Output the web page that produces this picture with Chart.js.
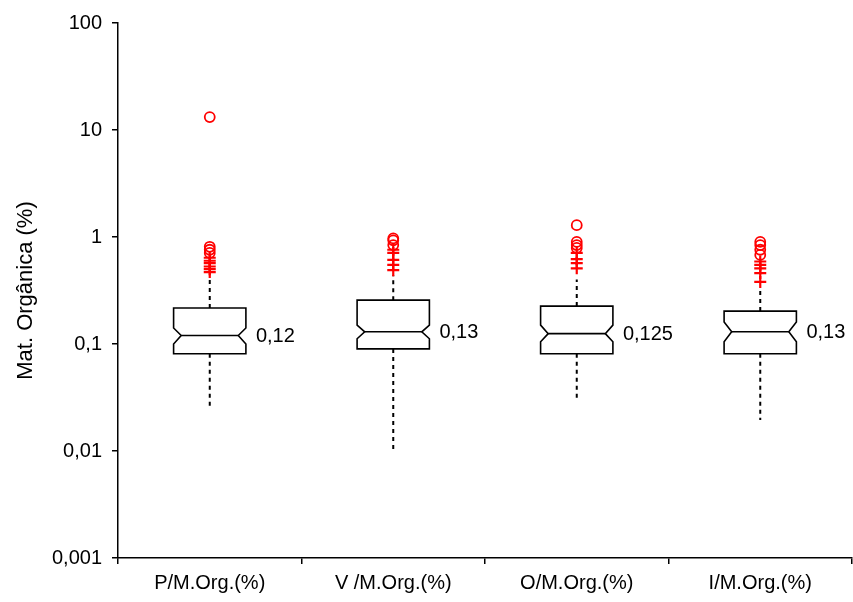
<!DOCTYPE html>
<html><head><meta charset="utf-8">
<script src="https://cdn.jsdelivr.net/npm/chart.js@4/dist/chart.umd.min.js"></script>
<style>html,body{margin:0;padding:0;background:#fff}</style>
</head><body>
<canvas id="c" width="853" height="602"></canvas>
<script>
// ---- data ----
const categories = ['P/M.Org.(%)', 'V /M.Org.(%)', 'O/M.Org.(%)', 'I/M.Org.(%)'];
const whiskerLow  = [0.026, 0.0096, 0.030, 0.0195];
const q1          = [0.081, 0.090, 0.081, 0.081];
const notchLow    = [0.100, 0.112, 0.105, 0.105];
const median      = [0.12, 0.13, 0.125, 0.13];
const notchHigh   = [0.141, 0.150, 0.150, 0.161];
const q3          = [0.217, 0.257, 0.226, 0.203];
const whiskerHigh = [0.40, 0.44, 0.40, 0.34];
const medianLabels = ['0,12', '0,13', '0,125', '0,13'];
const outliersCross = [
  [0.47, 0.50, 0.53, 0.57, 0.60, 0.64],
  [0.49, 0.55, 0.61, 0.71, 0.76],
  [0.51, 0.57, 0.62, 0.71],
  [0.38, 0.46, 0.51, 0.55, 0.59]
];
const outliersCircle = [
  [0.71, 0.76, 0.81, 13.2],
  [0.84, 0.93, 0.97],
  [0.79, 0.84, 0.90, 1.29],
  [0.68, 0.76, 0.84, 0.90]
];
const yTicks = [0.001, 0.01, 0.1, 1, 10, 100];
const yTickLabels = ['0,001', '0,01', '0,1', '1', '10', '100'];

const FONT = '"Liberation Sans", Arial, sans-serif';

const boxPlugin = {
  id: 'boxes',
  beforeDatasetsDraw(chart) {
    const ctx = chart.ctx, xs = chart.scales.x, ys = chart.scales.y;
    const step = xs.getPixelForValue(1) - xs.getPixelForValue(0);
    const hw = step * 0.197, ni = hw * 0.21;
    ctx.save();
    categories.forEach((c, i) => {
      const cx = xs.getPixelForValue(i);
      const yQ1 = ys.getPixelForValue(q1[i]), yQ3 = ys.getPixelForValue(q3[i]);
      const yM = ys.getPixelForValue(median[i]);
      const yNL = ys.getPixelForValue(notchLow[i]), yNH = ys.getPixelForValue(notchHigh[i]);
      const yWL = ys.getPixelForValue(whiskerLow[i]), yWH = ys.getPixelForValue(whiskerHigh[i]);
      // whiskers
      ctx.strokeStyle = '#000'; ctx.lineWidth = 2; ctx.setLineDash([4, 4]);
      ctx.beginPath();
      ctx.moveTo(cx, yQ3); ctx.lineTo(cx, yWH);
      ctx.moveTo(cx, yQ1); ctx.lineTo(cx, yWL);
      ctx.stroke();
      ctx.setLineDash([]);
      // notched box
      ctx.lineWidth = 1.6;
      ctx.beginPath();
      ctx.moveTo(cx - hw, yQ3); ctx.lineTo(cx + hw, yQ3);
      ctx.lineTo(cx + hw, yNH); ctx.lineTo(cx + hw - ni, yM); ctx.lineTo(cx + hw, yNL);
      ctx.lineTo(cx + hw, yQ1); ctx.lineTo(cx - hw, yQ1);
      ctx.lineTo(cx - hw, yNL); ctx.lineTo(cx - hw + ni, yM); ctx.lineTo(cx - hw, yNH);
      ctx.closePath();
      ctx.fillStyle = '#fff'; ctx.fill(); ctx.stroke();
      ctx.beginPath();
      ctx.moveTo(cx - hw + ni, yM); ctx.lineTo(cx + hw - ni, yM);
      ctx.stroke();
      // median label
      ctx.fillStyle = '#000';
      ctx.font = '20px ' + FONT;
      ctx.textAlign = 'left'; ctx.textBaseline = 'middle';
      ctx.fillText(medianLabels[i], cx + hw + 10, yM + 1);
    });
    ctx.restore();
  }
};

const crossData = categories.flatMap((c, i) => outliersCross[i].map(v => ({ x: c, y: v })));
const circleData = categories.flatMap((c, i) => outliersCircle[i].map(v => ({ x: c, y: v })));

new Chart(document.getElementById('c'), {
  type: 'scatter',
  data: {
    datasets: [
      { data: crossData, pointStyle: 'cross', pointRadius: 6, borderColor: '#ff0000', borderWidth: 2.2, backgroundColor: '#ff0000' },
      { data: circleData, pointStyle: 'circle', pointRadius: 5, borderColor: '#ff0000', borderWidth: 1.8, backgroundColor: 'rgba(0,0,0,0)' }
    ]
  },
  options: {
    responsive: false,
    animation: false,
    layout: { autoPadding: false, padding: { top: 23, right: 1, left: 0, bottom: 0 } },
    plugins: { legend: { display: false }, tooltip: { enabled: false } },
    scales: {
      x: {
        type: 'category',
        labels: categories,
        offset: true,
        grid: { offset: true, drawOnChartArea: false, drawTicks: true, tickLength: 6, color: '#000', lineWidth: 1.5 },
        border: { color: '#000', width: 1.5 },
        ticks: { color: '#000', font: { family: FONT, size: 20 }, padding: 7, maxRotation: 0, autoSkip: false },
        afterFit: s => { s.height = 44; s.paddingLeft = 0; s.paddingRight = 0; }
      },
      y: {
        type: 'logarithmic',
        min: 0.001, max: 100,
        afterBuildTicks: s => { s.ticks = yTicks.map(v => ({ value: v, major: true })); },
        grid: { drawOnChartArea: false, drawTicks: true, tickLength: 6, color: '#000', lineWidth: 1.5 },
        border: { color: '#000', width: 1.5 },
        ticks: {
          color: '#000', font: { family: FONT, size: 20 }, padding: 10, autoSkip: false,
          callback: (v) => { const k = yTicks.indexOf(v); return k >= 0 ? yTickLabels[k] : ''; }
        },
        title: { display: true, text: 'Mat. Orgânica (%)', color: '#000', font: { family: FONT, size: 22 }, padding: { top: 13, bottom: 0 } },
        afterFit: s => { s.width = 118; }
      }
    }
  },
  plugins: [boxPlugin]
});
</script>
</body></html>
